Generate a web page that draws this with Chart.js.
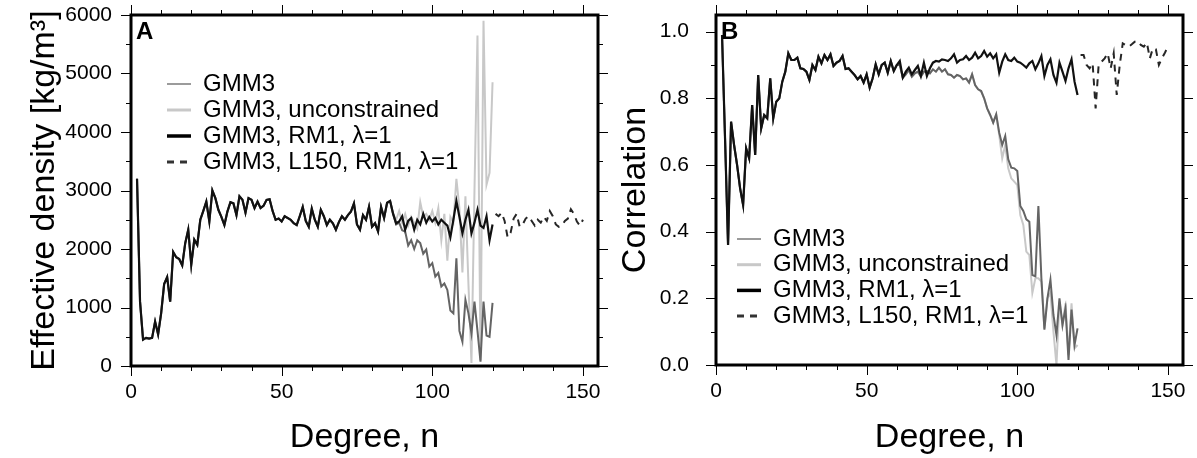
<!DOCTYPE html>
<html>
<head>
<meta charset="utf-8">
<script src="https://cdn.jsdelivr.net/npm/chart.js@4.4.0/dist/chart.umd.min.js"></script>
<style>
    html, body { margin: 0; padding: 0; background: #fff; }
    #wrap { position: relative; width: 1197px; height: 458px; overflow: hidden; }
    .panel { position: absolute; top: 0; }
    #pa { left: 0; }
    #pb { left: 600px; }
</style>
</head>
<body>
<div id="wrap">
    <div class="panel" id="pa"><canvas id="ca" width="610" height="458"></canvas></div>
    <div class="panel" id="pb"><canvas id="cb" width="597" height="458"></canvas></div>
</div>
<script>
(function () {
    const FONT = "'Liberation Sans', Arial, Helvetica, sans-serif";

    // spherical harmonic degree
    const degrees = [2,3,4,5,6,7,8,9,10,11,12,13,14,15,16,17,18,19,20,21,22,23,24,25,26,27,28,29,30,31,
        32,33,34,35,36,37,38,39,40,41,42,43,44,45,46,47,48,49,50,51,52,53,54,55,56,57,58,59,60,61,
        62,63,64,65,66,67,68,69,70,71,72,73,74,75,76,77,78,79,80,81,82,83,84,85,86,87,88,89,90,91,
        92,93,94,95,96,97,98,99,100,101,102,103,104,105,106,107,108,109,110,111,112,113,114,115,116,117,118,119,120];
    const degreesL150 = [121,122,123,124,125,126,127,128,129,130,131,132,133,134,135,136,137,138,139,140,
        141,142,143,144,145,146,147,148,149,150];

    const xTicks = [0, 50, 100, 150];
    const yTicksDensity = [0, 1000, 2000, 3000, 4000, 5000, 6000];
    const yTicksCorr = [0, 0.2, 0.4, 0.6, 0.8, 1.0];

    const labels = ["GMM3", "GMM3, unconstrained", "GMM3, RM1, \u03bb=1", "GMM3, L150, RM1, \u03bb=1"];

    // panel A: effective density [kg/m3], n = 2..87 is the same for the three solid curves
    const densShared = [3200,1100,450,480,470,480,760,540,900,1400,
        1520,1100,1950,1860,1830,1720,2100,2330,1730,2160,
        2070,2500,2650,2810,2470,3000,2870,2670,2550,2410,
        2640,2800,2780,2580,2900,2840,2620,2870,2840,2700,
        2810,2700,2740,2840,2850,2650,2500,2520,2470,2560,
        2530,2500,2440,2410,2560,2720,2480,2380,2690,2500,
        2380,2670,2560,2410,2500,2440,2330,2460,2560,2500,
        2580,2640,2780,2420,2330,2580,2500,2720,2380,2440,
        2300,2720,2530,2790,2820,2600];
    // n = 88..120
    const densGmm3Tail = [2420,2450,2320,2300,2060,2150,2000,2150,2100,1920,1990,1700,1760,1530,1590,1360,1410,
        1300,950,900,1840,600,416,1130,900,560,1100,600,75,1100,520,500,1080];
    const densUncTail = [2500,2650,2450,2600,2400,2550,2450,2350,2800,2550,2600,2500,2650,2450,2700,2150,2600,
        1800,2550,2450,3200,2700,1600,2900,1400,50,3000,5650,100,5900,3100,3300,4850];
    const densRm1Tail = [2440,2470,2560,2330,2480,2530,2330,2500,2420,2600,2450,2550,2470,2530,2420,2500,2450,
        2400,2200,2500,2820,2550,2270,2500,2670,2270,2450,2670,2400,2360,2560,2150,2420];
    // n = 121..150
    const densL150 = [2600,2560,2620,2480,2200,2280,2520,2600,2380,2420,2520,2560,2480,2400,2500,
        2450,2550,2480,2650,2560,2420,2380,2400,2480,2520,2680,2600,2470,2400,2500];

    // panel B: correlation, n = 2..60 is the same for the three solid curves
    const corrShared = [0.99,0.68,0.36,0.73,0.66,0.6,0.53,0.48,0.65,0.62,
        0.78,0.63,0.87,0.71,0.75,0.74,0.86,0.74,0.79,0.80,
        0.85,0.88,0.935,0.915,0.915,0.922,0.89,0.888,0.88,0.855,
        0.9,0.885,0.925,0.905,0.93,0.915,0.932,0.897,0.907,0.912,
        0.927,0.888,0.89,0.88,0.87,0.857,0.867,0.847,0.872,0.832,
        0.86,0.902,0.872,0.9,0.907,0.877,0.912,0.882,0.9];
    // n = 61..120
    const corrGmm3Tail = [0.9,0.862,0.872,0.885,0.865,0.875,0.88,0.865,0.88,0.882,
        0.875,0.887,0.88,0.892,0.88,0.887,0.872,0.87,0.862,0.87,
        0.867,0.857,0.86,0.847,0.872,0.84,0.827,0.822,0.8,0.77,
        0.75,0.727,0.752,0.697,0.66,0.687,0.617,0.592,0.59,0.582,
        0.477,0.462,0.437,0.43,0.27,0.266,0.477,0.26,0.106,0.2,
        0.256,0.15,0.09,0.2,0.12,0.17,0.015,0.166,0.06,0.11];
    const corrUncTail = [0.9,0.862,0.872,0.885,0.865,0.875,0.88,0.865,0.88,0.882,
        0.875,0.887,0.88,0.892,0.88,0.887,0.872,0.87,0.862,0.87,
        0.867,0.857,0.86,0.847,0.872,0.84,0.827,0.822,0.8,0.77,
        0.75,0.727,0.752,0.69,0.62,0.66,0.59,0.56,0.55,0.54,
        0.45,0.42,0.34,0.33,0.216,0.26,0.26,0.25,0.11,0.2,
        0.216,0.1,0.0,0.19,0.12,0.185,0.03,0.185,0.05,0.06];
    const corrRm1Tail = [0.912,0.862,0.88,0.892,0.872,0.885,0.897,0.867,0.907,0.867,
        0.89,0.907,0.912,0.91,0.917,0.915,0.912,0.92,0.932,0.907,
        0.915,0.917,0.927,0.915,0.922,0.937,0.92,0.927,0.942,0.925,
        0.935,0.92,0.932,0.877,0.91,0.932,0.915,0.912,0.922,0.91,
        0.907,0.9,0.892,0.905,0.912,0.887,0.905,0.927,0.867,0.9,
        0.917,0.87,0.847,0.907,0.88,0.852,0.89,0.917,0.85,0.81];
    // n = 121..150
    const corrL150 = [0.93,0.93,0.9,0.89,0.905,0.77,0.9,0.91,0.92,0.935,0.89,0.935,0.81,0.9,0.965,
        0.96,0.955,0.962,0.97,0.972,0.96,0.955,0.967,0.92,0.95,0.947,0.9,0.92,0.937,0.955];

    function pts(xs, ys) {
        return xs.map(function (n, i) { return { x: n, y: ys[i] }; });
    }

    function datasets(gmm3, unc, rm1, l150) {
        return [
            { label: labels[0], data: pts(degrees, gmm3), borderColor: "#646464", borderWidth: 2,
              order: 2, legendColor: "#7a7a7a", legendWidth: 1.5 },
            { label: labels[1], data: pts(degrees, unc), borderColor: "#c8c8c8", borderWidth: 2,
              order: 3, legendColor: "#c8c8c8", legendWidth: 3 },
            { label: labels[2], data: pts(degrees, rm1), borderColor: "#111111", borderWidth: 2.2,
              order: 1, legendColor: "#000000", legendWidth: 3.5 },
            { label: labels[3], data: pts(degreesL150, l150), borderColor: "#262626", borderWidth: 2,
              borderDash: [7, 6], order: 0, legendColor: "#333333", legendWidth: 3 }
        ];
    }

    // GMT-like frame: thick box, ticks on four sides, panel letter, legend
    const gmtFrame = {
        id: "gmtFrame",
        afterDatasetsDraw: function (chart, args, o) {
            const ctx = chart.ctx;
            const a = chart.chartArea;
            const xs = chart.scales.x;
            const ys = chart.scales.y;
            ctx.save();
            ctx.strokeStyle = "#000";
            ctx.lineWidth = 1;
            ctx.beginPath();
            for (let i = 0; i * o.xMinor <= xs.max + 1e-9; i++) {
                const v = i * o.xMinor;
                const len = (i % o.xEvery === 0) ? 10 : 5;
                const px = Math.round(xs.getPixelForValue(v)) + 0.5;
                ctx.moveTo(px, a.bottom); ctx.lineTo(px, a.bottom + len);
                ctx.moveTo(px, a.top); ctx.lineTo(px, a.top - len);
            }
            for (let i = 0; i * o.yMinor <= ys.max + 1e-9; i++) {
                const v = i * o.yMinor;
                const len = (i % o.yEvery === 0) ? 10 : 5;
                const py = Math.round(ys.getPixelForValue(v)) + 0.5;
                ctx.moveTo(a.left, py); ctx.lineTo(a.left - len, py);
                ctx.moveTo(a.right, py); ctx.lineTo(a.right + len, py);
            }
            ctx.stroke();

            ctx.lineWidth = 3;
            ctx.strokeRect(a.left, a.top, a.right - a.left, a.bottom - a.top);

            ctx.fillStyle = "#000";
            ctx.textBaseline = "middle";
            ctx.textAlign = "left";
            ctx.font = "bold 24px " + FONT;
            ctx.fillText(o.letter, a.left + 5, a.top + 17);

            ctx.font = "24px " + FONT;
            chart.data.datasets.forEach(function (ds, i) {
                const y = o.legendY + i * o.legendGap;
                ctx.save();
                ctx.strokeStyle = ds.legendColor;
                ctx.lineWidth = ds.legendWidth;
                ctx.setLineDash(ds.borderDash || []);
                ctx.beginPath();
                ctx.moveTo(o.legendX, y);
                ctx.lineTo(o.legendX + 24, y);
                ctx.stroke();
                ctx.restore();
                ctx.fillText(ds.label, o.legendX + 36, y);
            });
            ctx.restore();
        }
    };

    function makeChart(id, cfg) {
        return new Chart(document.getElementById(id), {
            type: "line",
            data: { datasets: cfg.datasets },
            options: {
                responsive: false,
                animation: false,
                layout: { padding: { top: 15, right: cfg.padRight, left: 0, bottom: 0 } },
                elements: { point: { radius: 0 }, line: { tension: 0 } },
                plugins: {
                    legend: { display: false },
                    tooltip: { enabled: false },
                    gmtFrame: cfg.frame
                },
                scales: {
                    x: {
                        type: "linear", min: 0, max: 155,
                        grid: { display: false }, border: { display: false },
                        afterBuildTicks: function (s) { s.ticks = xTicks.map(function (v) { return { value: v }; }); },
                        afterFit: function (s) { s.height = cfg.xHeight; s.paddingLeft = 0; s.paddingRight = 0; },
                        ticks: { font: { family: FONT, size: 21 }, color: "#000", padding: 6, maxRotation: 0 },
                        title: { display: true, text: "Degree, n", color: "#000",
                                 font: { family: FONT, size: 34, lineHeight: 1 }, padding: { top: 0, bottom: 3 } }
                    },
                    y: {
                        type: "linear", min: 0, max: cfg.yMax,
                        grid: { display: false }, border: { display: false },
                        afterBuildTicks: function (s) { s.ticks = cfg.yTicks.map(function (v) { return { value: v }; }); },
                        afterFit: function (s) { s.width = cfg.yWidth; s.paddingTop = 0; s.paddingBottom = 0; },
                        ticks: { font: { family: FONT, size: 21 }, color: "#000", padding: cfg.yPad,
                                 callback: cfg.yFmt },
                        title: { display: true, text: cfg.yTitle, color: "#000",
                                 font: { family: FONT, size: 34, lineHeight: 1 }, padding: { top: cfg.yTitlePad, bottom: 0 } }
                    }
                }
            },
            plugins: [gmtFrame]
        });
    }

    makeChart("ca", {
        datasets: datasets(densShared.concat(densGmm3Tail), densShared.concat(densUncTail),
                           densShared.concat(densRm1Tail), densL150),
        padRight: 12, xHeight: 92, yWidth: 131, yMax: 6000, yTicks: yTicksDensity, yPad: 11,
        yFmt: function (v) { return String(v); },
        yTitle: "Effective density [kg/m\u00b3]", yTitlePad: 28,
        frame: { letter: "A", xMinor: 10, xEvery: 5, yMinor: 500, yEvery: 2,
                 legendX: 167, legendY: 84, legendGap: 26 }
    });

    makeChart("cb", {
        datasets: datasets(corrShared.concat(corrGmm3Tail), corrShared.concat(corrUncTail),
                           corrShared.concat(corrRm1Tail), corrL150),
        padRight: 14, xHeight: 93, yWidth: 116, yMax: 1.05, yTicks: yTicksCorr, yPad: 19,
        yFmt: function (v) { return v.toFixed(1); },
        yTitle: "Correlation", yTitlePad: 19,
        frame: { letter: "B", xMinor: 10, xEvery: 5, yMinor: 0.1, yEvery: 2,
                 legendX: 137, legendY: 239, legendGap: 25.7 }
    });
})();
</script>
</body>
</html>
